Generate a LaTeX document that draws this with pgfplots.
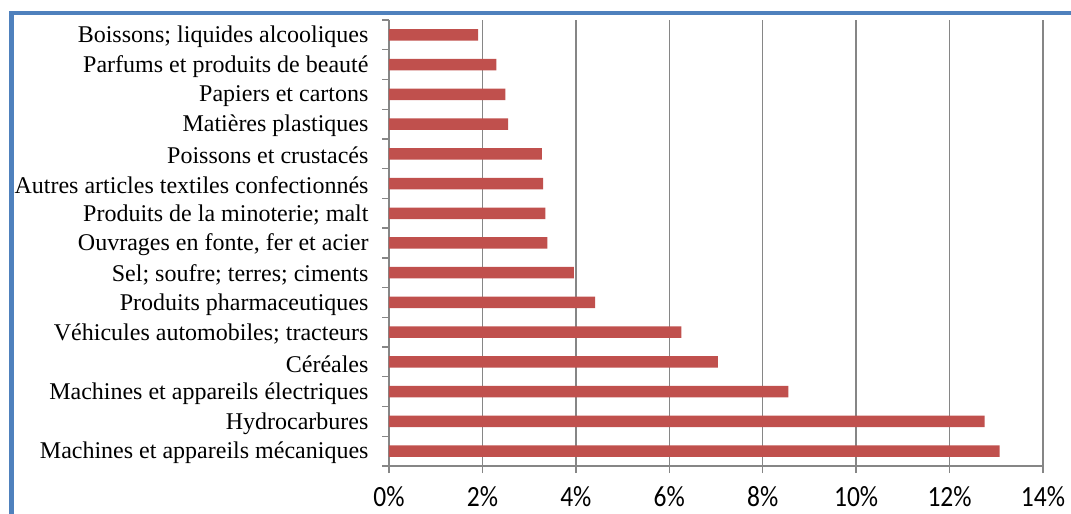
\documentclass[border=0pt]{standalone}
\usepackage{graphicx}
\usepackage{pgfplots}
\pgfplotsset{compat=1.18}
\usepackage{fontspec}
\setmainfont{Liberation Serif}
\newfontfamily\calibri{Carlito}
\definecolor{barred}{HTML}{C0504D}
\definecolor{frameblue}{HTML}{4F81BD}
\definecolor{gridgray}{HTML}{868686}
\newcommand{\tl}[1]{\scalebox{1}[1.15]{#1}}
\begin{document}
\begin{tikzpicture}[x=1pt,y=1pt]
\useasboundingbox (0,0) rectangle (1071,514);
\draw[frameblue, line width=4.5pt] (11.5,-60) rectangle (1200,501);
\begin{axis}[
  at={(389pt,48pt)}, anchor=south west,
  scale only axis, width=654pt, height=446pt,
  xmin=0, xmax=14, ymin=-0.5, ymax=14.5,
  xbar, bar width=11.5pt, bar shift=0pt,
  axis x line*=bottom, axis y line*=left,
  axis line style={gridgray, line width=1.3pt, -},
  xtick={0,2,...,14},
  xticklabels={\tl{0\%},\tl{2\%},\tl{4\%},\tl{6\%},\tl{8\%},\tl{10\%},\tl{12\%},\tl{14\%}},
  xticklabel style={font=\calibri\fontsize{25.5}{25.5}\selectfont, anchor=north, inner sep=0pt, yshift=-13pt},
  ytick={-0.5,0.5,...,14.5},
  yticklabels={Machines et appareils mécaniques, Hydrocarbures, Machines et appareils électriques, Céréales, Véhicules automobiles; tracteurs, Produits pharmaceutiques, {Sel; soufre; terres; ciments}, {Ouvrages en fonte, fer et acier}, Produits de la minoterie; malt, Autres articles textiles confectionnés, Poissons et crustacés, Matières plastiques, Papiers et cartons, Parfums et produits de beauté, Boissons; liquides alcooliques, {}},
  yticklabel style={font=\fontsize{24}{24}\selectfont, yshift=13pt, xshift=-10pt},
  tick align=outside, major tick length=7pt,
  tick style={gridgray, line width=1.3pt},
  xmajorgrids, ymajorgrids=false,
  major x grid style={gridgray, line width=1.3pt},
  clip=false,
]
\addplot[fill=barred, draw=none] coordinates {
  (13.07,0) (12.75,1) (8.55,2) (7.04,3) (6.26,4) (4.41,5) (3.96,6) (3.39,7)
  (3.35,8) (3.30,9) (3.27,10) (2.55,11) (2.49,12) (2.30,13) (1.91,14)
};
\end{axis}
\end{tikzpicture}
\end{document}
